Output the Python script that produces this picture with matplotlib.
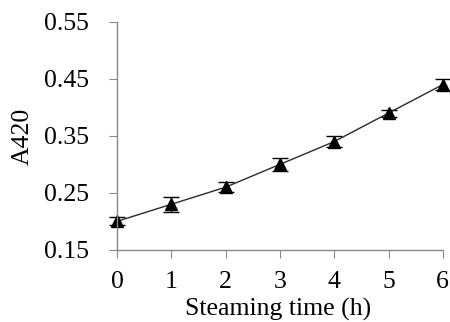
import numpy as np
import matplotlib.pyplot as plt

plt.rcParams['font.family'] = ['Liberation Serif', 'DejaVu Serif']

hours = [0, 1, 2, 3, 4, 5, 6]
a420 = [0.200, 0.230, 0.260, 0.300, 0.340, 0.390, 0.440]
err = [0.007, 0.013, 0.009, 0.012, 0.009, 0.006, 0.010]

fig = plt.figure(figsize=(4.5, 3.22), dpi=100)
ax = fig.add_axes([0.26, 0.224, 0.724, 0.708])

ax.errorbar(hours, a420, yerr=err, color='#2a2a2a', lw=1.0, marker='^',
            ms=9, mfc='black', mec='black', ecolor='black', elinewidth=1.0,
            capsize=5.5, capthick=1.0, clip_on=False)

ax.set_xlim(0, 6)
ax.set_ylim(0.15, 0.55)
ax.set_xticks(hours)
ax.set_yticks([0.15, 0.25, 0.35, 0.45, 0.55])
ax.set_yticklabels(['0.15', '0.25', '0.35', '0.45', '0.55'])

for s in ['top', 'right']:
    ax.spines[s].set_visible(False)
for s in ['left', 'bottom']:
    ax.spines[s].set_color('#888888')
    ax.spines[s].set_linewidth(1.0)
ax.tick_params(axis='both', colors='#888888', labelcolor='black',
               labelsize=18.5, length=6, direction='out')
ax.tick_params(axis='x', pad=9)
ax.tick_params(axis='y', pad=14)

fig.text(278/450, 1-309/322, 'Steaming time (h)', fontsize=18.5, ha='center', va='center')
fig.text(23/450, 1-136/322, 'A420', fontsize=18.5, rotation=90, ha='center', va='center')

plt.savefig('out.png', dpi=100)
